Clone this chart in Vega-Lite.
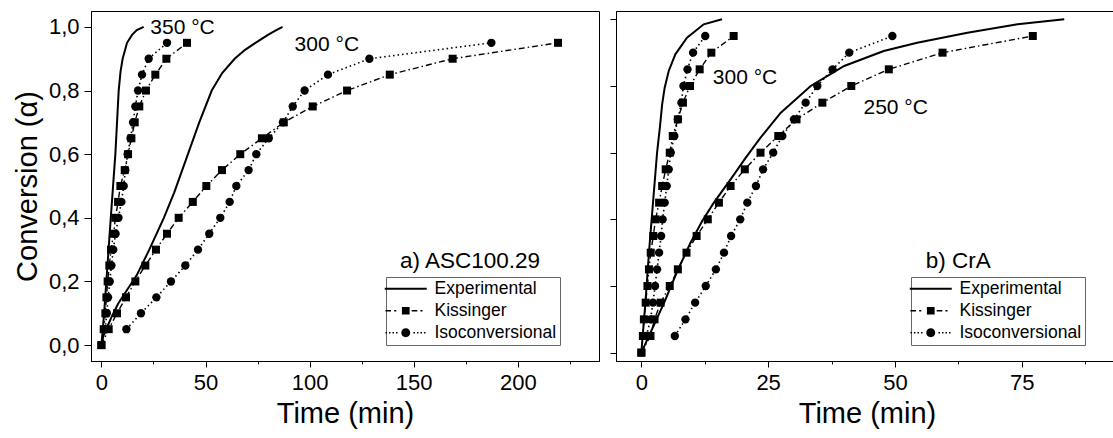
{
  "$schema": "https://vega.github.io/schema/vega-lite/v6.json",
  "padding": {"left": 12, "top": 10, "right": 0, "bottom": 0},
  "spacing": 9,
  "datasets": {
    "a": [
      {"temp":"350","method":"Experimental","time":0,"conv":0},{"temp":"350","method":"Experimental","time":1.3,"conv":0.1},{"temp":"350","method":"Experimental","time":2.9,"conv":0.25},{"temp":"350","method":"Experimental","time":4.5,"conv":0.4},{"temp":"350","method":"Experimental","time":5.6,"conv":0.5},{"temp":"350","method":"Experimental","time":6.7,"conv":0.6},{"temp":"350","method":"Experimental","time":7.5,"conv":0.7},{"temp":"350","method":"Experimental","time":8.3,"conv":0.8},{"temp":"350","method":"Experimental","time":9.2,"conv":0.86},{"temp":"350","method":"Experimental","time":10.2,"conv":0.9},{"temp":"350","method":"Experimental","time":12.3,"conv":0.95},{"temp":"350","method":"Experimental","time":14.7,"conv":0.975},{"temp":"350","method":"Experimental","time":17,"conv":0.99},{"temp":"350","method":"Experimental","time":20.3,"conv":1.0},
      {"temp":"350","method":"Kissinger","time":0,"conv":0},{"temp":"350","method":"Kissinger","time":1.1,"conv":0.05},{"temp":"350","method":"Kissinger","time":1.9,"conv":0.1},{"temp":"350","method":"Kissinger","time":2.4,"conv":0.15},{"temp":"350","method":"Kissinger","time":3.0,"conv":0.2},{"temp":"350","method":"Kissinger","time":3.8,"conv":0.25},{"temp":"350","method":"Kissinger","time":4.6,"conv":0.3},{"temp":"350","method":"Kissinger","time":5.9,"conv":0.35},{"temp":"350","method":"Kissinger","time":6.7,"conv":0.4},{"temp":"350","method":"Kissinger","time":8.0,"conv":0.45},{"temp":"350","method":"Kissinger","time":9.1,"conv":0.5},{"temp":"350","method":"Kissinger","time":11.2,"conv":0.55},{"temp":"350","method":"Kissinger","time":12.8,"conv":0.6},{"temp":"350","method":"Kissinger","time":14.4,"conv":0.65},{"temp":"350","method":"Kissinger","time":16.0,"conv":0.7},{"temp":"350","method":"Kissinger","time":18.2,"conv":0.75},{"temp":"350","method":"Kissinger","time":21.4,"conv":0.8},{"temp":"350","method":"Kissinger","time":25.9,"conv":0.85},{"temp":"350","method":"Kissinger","time":31.2,"conv":0.9},{"temp":"350","method":"Kissinger","time":41.1,"conv":0.95},
      {"temp":"350","method":"Isoconversional","time":1.8,"conv":0.05},{"temp":"350","method":"Isoconversional","time":2.6,"conv":0.1},{"temp":"350","method":"Isoconversional","time":3.2,"conv":0.15},{"temp":"350","method":"Isoconversional","time":4.0,"conv":0.2},{"temp":"350","method":"Isoconversional","time":4.8,"conv":0.25},{"temp":"350","method":"Isoconversional","time":5.7,"conv":0.3},{"temp":"350","method":"Isoconversional","time":6.8,"conv":0.35},{"temp":"350","method":"Isoconversional","time":8.2,"conv":0.4},{"temp":"350","method":"Isoconversional","time":9.6,"conv":0.45},{"temp":"350","method":"Isoconversional","time":10.7,"conv":0.5},{"temp":"350","method":"Isoconversional","time":11.5,"conv":0.55},{"temp":"350","method":"Isoconversional","time":12.6,"conv":0.6},{"temp":"350","method":"Isoconversional","time":14.0,"conv":0.65},{"temp":"350","method":"Isoconversional","time":15.2,"conv":0.7},{"temp":"350","method":"Isoconversional","time":16.3,"conv":0.75},{"temp":"350","method":"Isoconversional","time":17.6,"conv":0.8},{"temp":"350","method":"Isoconversional","time":19.5,"conv":0.85},{"temp":"350","method":"Isoconversional","time":22.7,"conv":0.9},{"temp":"350","method":"Isoconversional","time":31.5,"conv":0.95},
      {"temp":"300","method":"Experimental","time":0,"conv":0},{"temp":"300","method":"Experimental","time":1,"conv":0.03},{"temp":"300","method":"Experimental","time":3,"conv":0.06},{"temp":"300","method":"Experimental","time":5,"conv":0.09},{"temp":"300","method":"Experimental","time":8,"conv":0.13},{"temp":"300","method":"Experimental","time":12,"conv":0.17},{"temp":"300","method":"Experimental","time":17,"conv":0.22},{"temp":"300","method":"Experimental","time":23,"conv":0.3},{"temp":"300","method":"Experimental","time":30,"conv":0.4},{"temp":"300","method":"Experimental","time":35,"conv":0.48},{"temp":"300","method":"Experimental","time":41,"conv":0.59},{"temp":"300","method":"Experimental","time":47,"conv":0.7},{"temp":"300","method":"Experimental","time":53,"conv":0.8},{"temp":"300","method":"Experimental","time":58,"conv":0.855},{"temp":"300","method":"Experimental","time":64,"conv":0.9},{"temp":"300","method":"Experimental","time":69,"conv":0.928},{"temp":"300","method":"Experimental","time":74,"conv":0.95},{"temp":"300","method":"Experimental","time":80,"conv":0.975},{"temp":"300","method":"Experimental","time":84,"conv":0.99},{"temp":"300","method":"Experimental","time":87,"conv":1.0},
      {"temp":"300","method":"Kissinger","time":0,"conv":0},{"temp":"300","method":"Kissinger","time":3.5,"conv":0.05},{"temp":"300","method":"Kissinger","time":7.5,"conv":0.1},{"temp":"300","method":"Kissinger","time":11.8,"conv":0.15},{"temp":"300","method":"Kissinger","time":16.3,"conv":0.2},{"temp":"300","method":"Kissinger","time":21.1,"conv":0.25},{"temp":"300","method":"Kissinger","time":26.2,"conv":0.3},{"temp":"300","method":"Kissinger","time":31.5,"conv":0.35},{"temp":"300","method":"Kissinger","time":37.1,"conv":0.4},{"temp":"300","method":"Kissinger","time":43.9,"conv":0.45},{"temp":"300","method":"Kissinger","time":50.4,"conv":0.5},{"temp":"300","method":"Kissinger","time":57.9,"conv":0.55},{"temp":"300","method":"Kissinger","time":66.7,"conv":0.6},{"temp":"300","method":"Kissinger","time":77.1,"conv":0.65},{"temp":"300","method":"Kissinger","time":87.6,"conv":0.7},{"temp":"300","method":"Kissinger","time":101.5,"conv":0.75},{"temp":"300","method":"Kissinger","time":118,"conv":0.8},{"temp":"300","method":"Kissinger","time":138.5,"conv":0.85},{"temp":"300","method":"Kissinger","time":168.7,"conv":0.9},{"temp":"300","method":"Kissinger","time":219.3,"conv":0.95},
      {"temp":"300","method":"Isoconversional","time":12.0,"conv":0.05},{"temp":"300","method":"Isoconversional","time":19.0,"conv":0.1},{"temp":"300","method":"Isoconversional","time":26.4,"conv":0.15},{"temp":"300","method":"Isoconversional","time":33.4,"conv":0.2},{"temp":"300","method":"Isoconversional","time":40.3,"conv":0.25},{"temp":"300","method":"Isoconversional","time":46.4,"conv":0.3},{"temp":"300","method":"Isoconversional","time":51.8,"conv":0.35},{"temp":"300","method":"Isoconversional","time":57.1,"conv":0.4},{"temp":"300","method":"Isoconversional","time":61.6,"conv":0.45},{"temp":"300","method":"Isoconversional","time":64.8,"conv":0.5},{"temp":"300","method":"Isoconversional","time":70.7,"conv":0.55},{"temp":"300","method":"Isoconversional","time":74.4,"conv":0.6},{"temp":"300","method":"Isoconversional","time":80.4,"conv":0.65},{"temp":"300","method":"Isoconversional","time":87.2,"conv":0.7},{"temp":"300","method":"Isoconversional","time":91.9,"conv":0.75},{"temp":"300","method":"Isoconversional","time":97.6,"conv":0.8},{"temp":"300","method":"Isoconversional","time":108.8,"conv":0.85},{"temp":"300","method":"Isoconversional","time":128.7,"conv":0.9},{"temp":"300","method":"Isoconversional","time":187.3,"conv":0.95}
    ],
    "b": [
      {"temp":"300","method":"Experimental","time":0,"conv":0},{"temp":"300","method":"Experimental","time":0.8,"conv":0.15},{"temp":"300","method":"Experimental","time":1.5,"conv":0.3},{"temp":"300","method":"Experimental","time":2.3,"conv":0.45},{"temp":"300","method":"Experimental","time":3.1,"conv":0.6},{"temp":"300","method":"Experimental","time":3.65,"conv":0.675},{"temp":"300","method":"Experimental","time":4.1,"conv":0.745},{"temp":"300","method":"Experimental","time":4.6,"conv":0.795},{"temp":"300","method":"Experimental","time":5.4,"conv":0.845},{"temp":"300","method":"Experimental","time":6.7,"conv":0.895},{"temp":"300","method":"Experimental","time":9.0,"conv":0.945},{"temp":"300","method":"Experimental","time":12.3,"conv":0.985},{"temp":"300","method":"Experimental","time":15.9,"conv":1.0},
      {"temp":"300","method":"Kissinger","time":0,"conv":0},{"temp":"300","method":"Kissinger","time":0.3,"conv":0.05},{"temp":"300","method":"Kissinger","time":0.5,"conv":0.1},{"temp":"300","method":"Kissinger","time":0.85,"conv":0.15},{"temp":"300","method":"Kissinger","time":1.2,"conv":0.2},{"temp":"300","method":"Kissinger","time":1.5,"conv":0.25},{"temp":"300","method":"Kissinger","time":1.85,"conv":0.3},{"temp":"300","method":"Kissinger","time":2.35,"conv":0.35},{"temp":"300","method":"Kissinger","time":2.8,"conv":0.4},{"temp":"300","method":"Kissinger","time":3.5,"conv":0.45},{"temp":"300","method":"Kissinger","time":4.1,"conv":0.5},{"temp":"300","method":"Kissinger","time":4.8,"conv":0.55},{"temp":"300","method":"Kissinger","time":5.6,"conv":0.6},{"temp":"300","method":"Kissinger","time":6.2,"conv":0.65},{"temp":"300","method":"Kissinger","time":7.2,"conv":0.7},{"temp":"300","method":"Kissinger","time":8.2,"conv":0.75},{"temp":"300","method":"Kissinger","time":9.6,"conv":0.8},{"temp":"300","method":"Kissinger","time":11.5,"conv":0.85},{"temp":"300","method":"Kissinger","time":13.8,"conv":0.9},{"temp":"300","method":"Kissinger","time":18.2,"conv":0.95},
      {"temp":"300","method":"Isoconversional","time":1.0,"conv":0.05},{"temp":"300","method":"Isoconversional","time":1.8,"conv":0.1},{"temp":"300","method":"Isoconversional","time":2.3,"conv":0.15},{"temp":"300","method":"Isoconversional","time":2.7,"conv":0.2},{"temp":"300","method":"Isoconversional","time":3.1,"conv":0.25},{"temp":"300","method":"Isoconversional","time":3.5,"conv":0.3},{"temp":"300","method":"Isoconversional","time":3.9,"conv":0.35},{"temp":"300","method":"Isoconversional","time":4.2,"conv":0.4},{"temp":"300","method":"Isoconversional","time":4.6,"conv":0.45},{"temp":"300","method":"Isoconversional","time":5.0,"conv":0.5},{"temp":"300","method":"Isoconversional","time":5.4,"conv":0.55},{"temp":"300","method":"Isoconversional","time":5.8,"conv":0.6},{"temp":"300","method":"Isoconversional","time":6.5,"conv":0.65},{"temp":"300","method":"Isoconversional","time":7.2,"conv":0.7},{"temp":"300","method":"Isoconversional","time":7.9,"conv":0.75},{"temp":"300","method":"Isoconversional","time":8.3,"conv":0.8},{"temp":"300","method":"Isoconversional","time":9.1,"conv":0.85},{"temp":"300","method":"Isoconversional","time":10.2,"conv":0.9},{"temp":"300","method":"Isoconversional","time":12.6,"conv":0.95},
      {"temp":"250","method":"Experimental","time":0,"conv":0},{"temp":"250","method":"Experimental","time":1.8,"conv":0.06},{"temp":"250","method":"Experimental","time":4.5,"conv":0.15},{"temp":"250","method":"Experimental","time":7.1,"conv":0.245},{"temp":"250","method":"Experimental","time":9.7,"conv":0.33},{"temp":"250","method":"Experimental","time":12,"conv":0.395},{"temp":"250","method":"Experimental","time":14.3,"conv":0.45},{"temp":"250","method":"Experimental","time":17.6,"conv":0.52},{"temp":"250","method":"Experimental","time":20.6,"conv":0.585},{"temp":"250","method":"Experimental","time":23.5,"conv":0.645},{"temp":"250","method":"Experimental","time":27.5,"conv":0.72},{"temp":"250","method":"Experimental","time":33.4,"conv":0.8},{"temp":"250","method":"Experimental","time":40,"conv":0.86},{"temp":"250","method":"Experimental","time":47.8,"conv":0.905},{"temp":"250","method":"Experimental","time":54.4,"conv":0.93},{"temp":"250","method":"Experimental","time":64.3,"conv":0.96},{"temp":"250","method":"Experimental","time":74.2,"conv":0.985},{"temp":"250","method":"Experimental","time":83.4,"conv":1.0},
      {"temp":"250","method":"Kissinger","time":0,"conv":0},{"temp":"250","method":"Kissinger","time":1.8,"conv":0.05},{"temp":"250","method":"Kissinger","time":2.6,"conv":0.1},{"temp":"250","method":"Kissinger","time":3.8,"conv":0.15},{"temp":"250","method":"Kissinger","time":5.6,"conv":0.2},{"temp":"250","method":"Kissinger","time":7.2,"conv":0.25},{"temp":"250","method":"Kissinger","time":8.9,"conv":0.3},{"temp":"250","method":"Kissinger","time":10.9,"conv":0.35},{"temp":"250","method":"Kissinger","time":13.1,"conv":0.4},{"temp":"250","method":"Kissinger","time":15.3,"conv":0.45},{"temp":"250","method":"Kissinger","time":17.6,"conv":0.5},{"temp":"250","method":"Kissinger","time":20.4,"conv":0.55},{"temp":"250","method":"Kissinger","time":23.5,"conv":0.6},{"temp":"250","method":"Kissinger","time":27.0,"conv":0.65},{"temp":"250","method":"Kissinger","time":30.6,"conv":0.7},{"temp":"250","method":"Kissinger","time":35.7,"conv":0.75},{"temp":"250","method":"Kissinger","time":41.4,"conv":0.8},{"temp":"250","method":"Kissinger","time":48.8,"conv":0.85},{"temp":"250","method":"Kissinger","time":59.4,"conv":0.9},{"temp":"250","method":"Kissinger","time":77.2,"conv":0.95},
      {"temp":"250","method":"Isoconversional","time":6.6,"conv":0.05},{"temp":"250","method":"Isoconversional","time":8.7,"conv":0.1},{"temp":"250","method":"Isoconversional","time":10.6,"conv":0.15},{"temp":"250","method":"Isoconversional","time":12.7,"conv":0.2},{"temp":"250","method":"Isoconversional","time":14.7,"conv":0.25},{"temp":"250","method":"Isoconversional","time":16.3,"conv":0.3},{"temp":"250","method":"Isoconversional","time":17.7,"conv":0.35},{"temp":"250","method":"Isoconversional","time":19.5,"conv":0.4},{"temp":"250","method":"Isoconversional","time":20.9,"conv":0.45},{"temp":"250","method":"Isoconversional","time":22.6,"conv":0.5},{"temp":"250","method":"Isoconversional","time":24.0,"conv":0.55},{"temp":"250","method":"Isoconversional","time":26.0,"conv":0.6},{"temp":"250","method":"Isoconversional","time":27.8,"conv":0.65},{"temp":"250","method":"Isoconversional","time":30.1,"conv":0.7},{"temp":"250","method":"Isoconversional","time":32.4,"conv":0.75},{"temp":"250","method":"Isoconversional","time":34.7,"conv":0.8},{"temp":"250","method":"Isoconversional","time":37.7,"conv":0.85},{"temp":"250","method":"Isoconversional","time":41.0,"conv":0.9},{"temp":"250","method":"Isoconversional","time":49.5,"conv":0.95}
    ],
    "annA": [
      {"label":"350 °C","time":23.5,"conv":0.977,"kind":"temp"},
      {"label":"300 °C","time":92.8,"conv":0.924,"kind":"temp"},
      {"label":"a) ASC100.29","time":143.4,"conv":0.242,"kind":"panel"}
    ],
    "annB": [
      {"label":"300 °C","time":14.1,"conv":0.805,"kind":"temp"},
      {"label":"250 °C","time":43.8,"conv":0.716,"kind":"temp"},
      {"label":"b) CrA","time":56.1,"conv":0.255,"kind":"panel"}
    ]
  },
  "hconcat": [
    {
      "width": 508,
      "height": 350,
      "layer": [
        {
          "data": {"name": "a"},
          "transform": [{"filter": "datum.method == 'Experimental'"}],
          "mark": {"type": "line", "color": "black", "strokeWidth": 2},
          "encoding": {
            "x": {"field": "time", "type": "quantitative", "scale": {"domain": [-5, 239], "nice": false, "zero": false},
                  "axis": {"title": "Time (min)", "values": [0,25,50,75,100,125,150,175,200,225],
                           "labelExpr": "datum.value % 50 == 0 ? datum.label : ''",
                           "tickSize": {"condition": {"test": "datum.value % 50 == 0", "value": 6}, "value": 3}}},
            "y": {"field": "conv", "type": "quantitative", "scale": {"domain": [-0.05, 1.05], "nice": false, "zero": false},
                  "axis": {"title": "Conversion (α)", "values": [0,0.1,0.2,0.3,0.4,0.5,0.6,0.7,0.8,0.9,1.0],
                           "labelExpr": "round(datum.value*10) % 2 == 0 ? replace(format(datum.value, '.1f'), '.', ',') : ''",
                           "tickSize": {"condition": {"test": "round(datum.value*10) % 2 == 0", "value": 7}, "value": 3.5}}},
            "detail": {"field": "temp"}
          }
        },
        {
          "data": {"name": "a"},
          "transform": [{"filter": "datum.method == 'Kissinger'"}],
          "mark": {"type": "line", "color": "black", "strokeWidth": 1.4, "strokeDash": [6, 3, 1.5, 3]},
          "encoding": {"x": {"field": "time", "type": "quantitative"}, "y": {"field": "conv", "type": "quantitative"}, "detail": {"field": "temp"}}
        },
        {
          "data": {"name": "a"},
          "transform": [{"filter": "datum.method == 'Isoconversional'"}],
          "mark": {"type": "line", "color": "black", "strokeWidth": 1.6, "strokeDash": [1.5, 3]},
          "encoding": {"x": {"field": "time", "type": "quantitative"}, "y": {"field": "conv", "type": "quantitative"}, "detail": {"field": "temp"}}
        },
        {
          "data": {"name": "a"},
          "transform": [{"filter": "datum.method == 'Kissinger'"}],
          "mark": {"type": "point", "shape": "square", "filled": true, "color": "black", "size": 64, "opacity": 1},
          "encoding": {"x": {"field": "time", "type": "quantitative"}, "y": {"field": "conv", "type": "quantitative"}}
        },
        {
          "data": {"name": "a"},
          "transform": [{"filter": "datum.method == 'Isoconversional'"}],
          "mark": {"type": "point", "shape": "circle", "filled": true, "color": "black", "size": 70, "opacity": 1},
          "encoding": {"x": {"field": "time", "type": "quantitative"}, "y": {"field": "conv", "type": "quantitative"}}
        },
        {
          "data": {"name": "a"},
          "mark": {"type": "point", "filled": true, "color": "black", "opacity": 0},
          "encoding": {
            "x": {"field": "time", "type": "quantitative"},
            "y": {"field": "conv", "type": "quantitative"},
            "shape": {"field": "method", "type": "nominal",
              "scale": {"domain": ["Experimental","Kissinger","Isoconversional"],
                        "range": [
                          "M-3,-0.14H3V0.14H-3Z",
                          "M-2.9,-0.11H-2.1V0.11H-2.9Z M-1.65,-0.11H-1.35V0.11H-1.65Z M-0.55,-0.55H0.55V0.55H-0.55Z M0.85,-0.11H1.65V0.11H0.85Z M2.1,-0.11H2.4V0.11H2.1Z",
                          "M-2.9,-0.11H-2.68V0.11H-2.9Z M-2.4,-0.11H-2.18V0.11H-2.4Z M-1.9,-0.11H-1.68V0.11H-1.9Z M-1.4,-0.11H-1.18V0.11H-1.4Z M0.64,0A0.64,0.64,0,1,1,-0.64,0A0.64,0.64,0,1,1,0.64,0Z M1.1,-0.11H1.32V0.11H1.1Z M1.6,-0.11H1.82V0.11H1.6Z M2.1,-0.11H2.32V0.11H2.1Z M2.6,-0.11H2.82V0.11H2.6Z"
                        ]},
              "legend": {"orient": "none", "legendX": 295, "legendY": 266, "title": null,
                         "symbolSize": 196, "symbolOffset": 8, "labelOffset": 20,
                         "symbolOpacity": 1, "symbolFillColor": "black", "symbolStrokeWidth": 0,
                         "labelFont": "Liberation Sans", "labelFontSize": 17.5, "labelColor": "black",
                         "strokeColor": "#666", "padding": 3, "rowPadding": 3}}
          }
        },
        {
          "data": {"name": "annA"},
          "transform": [{"filter": "datum.kind == 'temp'"}],
          "mark": {"type": "text", "align": "left", "baseline": "alphabetic", "font": "Liberation Sans", "fontSize": 21, "color": "black"},
          "encoding": {"x": {"field": "time", "type": "quantitative"}, "y": {"field": "conv", "type": "quantitative"}, "text": {"field": "label"}}
        },
        {
          "data": {"name": "annA"},
          "transform": [{"filter": "datum.kind == 'panel'"}],
          "mark": {"type": "text", "align": "left", "baseline": "alphabetic", "font": "Liberation Sans", "fontSize": 22.5, "color": "black"},
          "encoding": {"x": {"field": "time", "type": "quantitative"}, "y": {"field": "conv", "type": "quantitative"}, "text": {"field": "label"}}
        }
      ]
    },
    {
      "width": 502,
      "height": 350,
      "layer": [
        {
          "data": {"name": "b"},
          "transform": [{"filter": "datum.method == 'Experimental'"}],
          "mark": {"type": "line", "color": "black", "strokeWidth": 2},
          "encoding": {
            "x": {"field": "time", "type": "quantitative", "scale": {"domain": [-5, 94], "nice": false, "zero": false},
                  "axis": {"title": "Time (min)", "values": [0,12.5,25,37.5,50,62.5,75,87.5],
                           "labelExpr": "datum.value % 25 == 0 ? datum.label : ''",
                           "tickSize": {"condition": {"test": "datum.value % 25 == 0", "value": 6}, "value": 3}}},
            "y": {"field": "conv", "type": "quantitative", "scale": {"domain": [-0.025, 1.025], "nice": false, "zero": false},
                  "axis": {"title": null, "labels": false, "values": [0,0.1,0.2,0.3,0.4,0.5,0.6,0.7,0.8,0.9,1.0], "tickSize": 6}},
            "detail": {"field": "temp"}
          }
        },
        {
          "data": {"name": "b"},
          "transform": [{"filter": "datum.method == 'Kissinger'"}],
          "mark": {"type": "line", "color": "black", "strokeWidth": 1.4, "strokeDash": [6, 3, 1.5, 3]},
          "encoding": {"x": {"field": "time", "type": "quantitative"}, "y": {"field": "conv", "type": "quantitative"}, "detail": {"field": "temp"}}
        },
        {
          "data": {"name": "b"},
          "transform": [{"filter": "datum.method == 'Isoconversional'"}],
          "mark": {"type": "line", "color": "black", "strokeWidth": 1.6, "strokeDash": [1.5, 3]},
          "encoding": {"x": {"field": "time", "type": "quantitative"}, "y": {"field": "conv", "type": "quantitative"}, "detail": {"field": "temp"}}
        },
        {
          "data": {"name": "b"},
          "transform": [{"filter": "datum.method == 'Kissinger'"}],
          "mark": {"type": "point", "shape": "square", "filled": true, "color": "black", "size": 64, "opacity": 1},
          "encoding": {"x": {"field": "time", "type": "quantitative"}, "y": {"field": "conv", "type": "quantitative"}}
        },
        {
          "data": {"name": "b"},
          "transform": [{"filter": "datum.method == 'Isoconversional'"}],
          "mark": {"type": "point", "shape": "circle", "filled": true, "color": "black", "size": 70, "opacity": 1},
          "encoding": {"x": {"field": "time", "type": "quantitative"}, "y": {"field": "conv", "type": "quantitative"}}
        },
        {
          "data": {"name": "b"},
          "mark": {"type": "point", "filled": true, "color": "black", "opacity": 0},
          "encoding": {
            "x": {"field": "time", "type": "quantitative"},
            "y": {"field": "conv", "type": "quantitative"},
            "shape": {"field": "method", "type": "nominal",
              "scale": {"domain": ["Experimental","Kissinger","Isoconversional"],
                        "range": [
                          "M-3,-0.14H3V0.14H-3Z",
                          "M-2.9,-0.11H-2.1V0.11H-2.9Z M-1.65,-0.11H-1.35V0.11H-1.65Z M-0.55,-0.55H0.55V0.55H-0.55Z M0.85,-0.11H1.65V0.11H0.85Z M2.1,-0.11H2.4V0.11H2.1Z",
                          "M-2.9,-0.11H-2.68V0.11H-2.9Z M-2.4,-0.11H-2.18V0.11H-2.4Z M-1.9,-0.11H-1.68V0.11H-1.9Z M-1.4,-0.11H-1.18V0.11H-1.4Z M0.64,0A0.64,0.64,0,1,1,-0.64,0A0.64,0.64,0,1,1,0.64,0Z M1.1,-0.11H1.32V0.11H1.1Z M1.6,-0.11H1.82V0.11H1.6Z M2.1,-0.11H2.32V0.11H2.1Z M2.6,-0.11H2.82V0.11H2.6Z"
                        ]},
              "legend": {"orient": "none", "legendX": 295, "legendY": 266, "title": null,
                         "symbolSize": 196, "symbolOffset": 8, "labelOffset": 20,
                         "symbolOpacity": 1, "symbolFillColor": "black", "symbolStrokeWidth": 0,
                         "labelFont": "Liberation Sans", "labelFontSize": 17.5, "labelColor": "black",
                         "strokeColor": "#666", "padding": 3, "rowPadding": 3}}
          }
        },
        {
          "data": {"name": "annB"},
          "transform": [{"filter": "datum.kind == 'temp'"}],
          "mark": {"type": "text", "align": "left", "baseline": "alphabetic", "font": "Liberation Sans", "fontSize": 21, "color": "black"},
          "encoding": {"x": {"field": "time", "type": "quantitative"}, "y": {"field": "conv", "type": "quantitative"}, "text": {"field": "label"}}
        },
        {
          "data": {"name": "annB"},
          "transform": [{"filter": "datum.kind == 'panel'"}],
          "mark": {"type": "text", "align": "left", "baseline": "alphabetic", "font": "Liberation Sans", "fontSize": 22.5, "color": "black"},
          "encoding": {"x": {"field": "time", "type": "quantitative"}, "y": {"field": "conv", "type": "quantitative"}, "text": {"field": "label"}}
        }
      ]
    }
  ],
  "resolve": {"scale": {"shape": "independent"}, "legend": {"shape": "independent"}},
  "config": {
    "view": {"stroke": "black", "strokeWidth": 1},
    "font": "Liberation Sans",
    "axis": {
      "grid": false, "domainColor": "black", "domainWidth": 1, "tickColor": "black", "tickWidth": 1,
      "labelFont": "Liberation Sans", "labelFontSize": 22, "labelColor": "black", "labelPadding": 5,
      "labelOverlap": false, "labelFlush": false,
      "titleFont": "Liberation Sans", "titleFontSize": 29, "titleFontWeight": "normal", "titleColor": "black", "titlePadding": 6
    }
  }
}
